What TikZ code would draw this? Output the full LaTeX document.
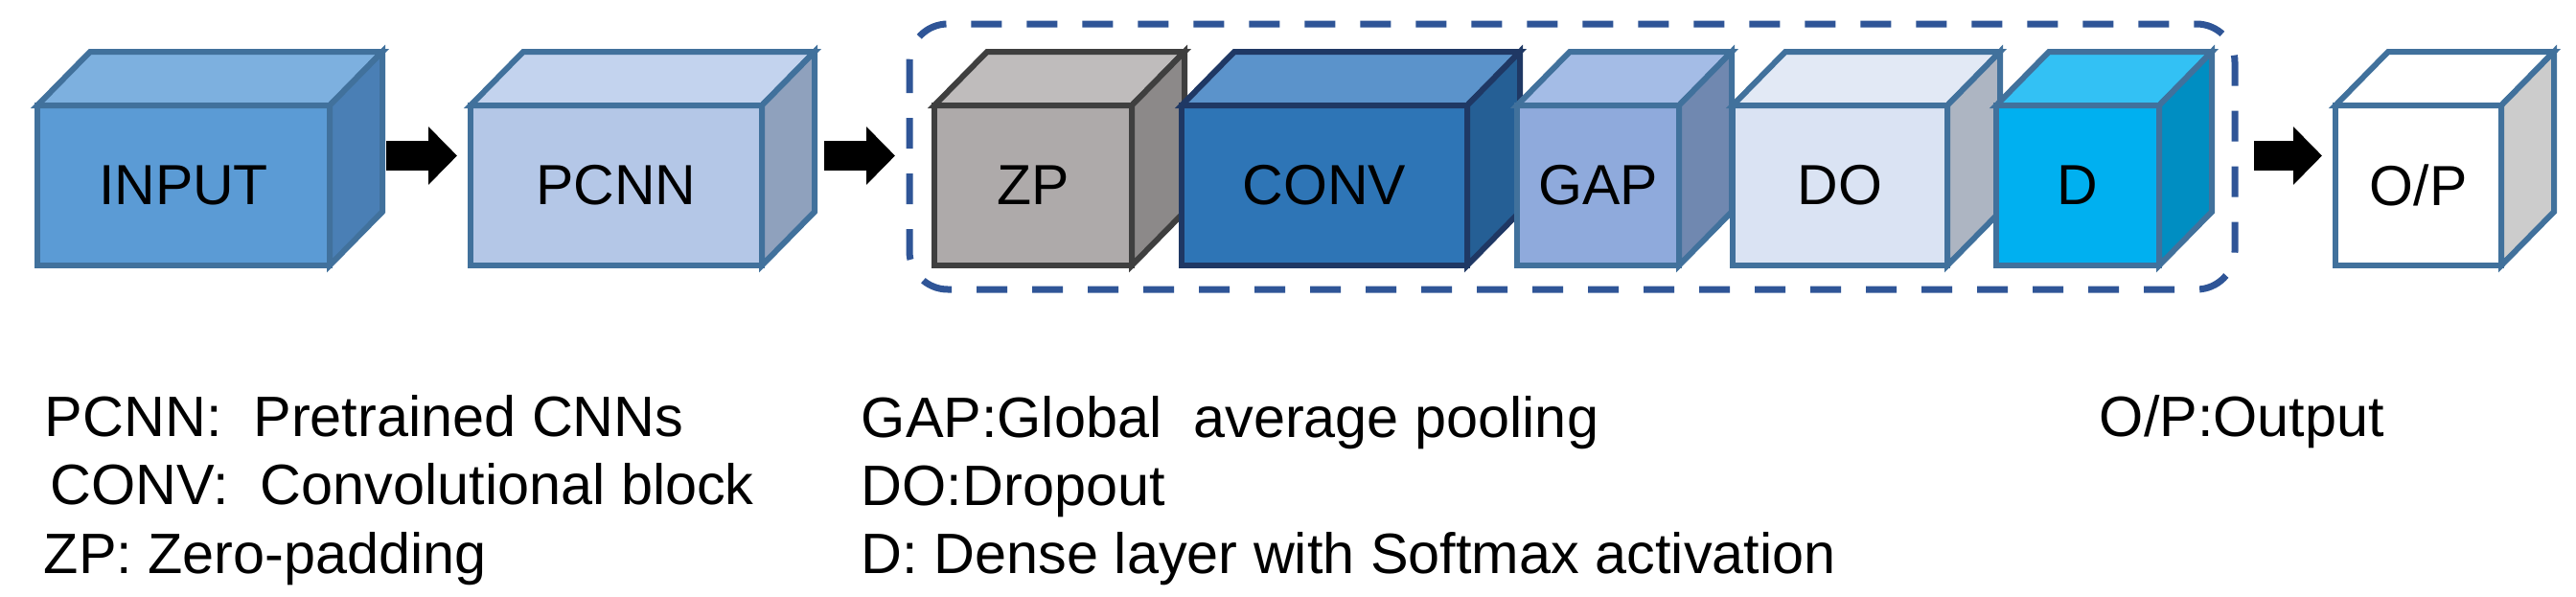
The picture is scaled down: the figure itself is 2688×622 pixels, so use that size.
\documentclass[tikz,border=0pt]{standalone}
\usepackage{fontspec}
\setmainfont{Liberation Sans}
\usetikzlibrary{arrows.meta}
\definecolor{edgeblue}{HTML}{41719C}
\definecolor{boxblue}{HTML}{2F5597}
\definecolor{inF}{HTML}{5B9BD5}\definecolor{inT}{HTML}{7DB0DF}\definecolor{inS}{HTML}{4A7FB5}
\definecolor{pcF}{HTML}{B4C7E7}\definecolor{pcT}{HTML}{C3D3EE}\definecolor{pcS}{HTML}{8FA1BD}
\definecolor{zpF}{HTML}{AEAAAA}\definecolor{zpT}{HTML}{BFBCBC}\definecolor{zpS}{HTML}{8C8989}\definecolor{zpE}{HTML}{3F3F3F}
\definecolor{cvF}{HTML}{2E75B6}\definecolor{cvT}{HTML}{5B93CB}\definecolor{cvS}{HTML}{255F95}\definecolor{cvE}{HTML}{1F3864}
\definecolor{gpF}{HTML}{8FAADC}\definecolor{gpT}{HTML}{A4BCE6}\definecolor{gpS}{HTML}{7088B0}
\definecolor{doF}{HTML}{DAE3F3}\definecolor{doT}{HTML}{E2E9F5}\definecolor{doS}{HTML}{ADB5C2}
\definecolor{dF}{HTML}{00B0F0}\definecolor{dT}{HTML}{33C1F4}\definecolor{dS}{HTML}{008EC2}
\definecolor{opS}{HTML}{CCCCCC}
\tikzset{
  face/.style={line width=1.5pt, line join=miter},
  frontface/.style={face, rectangle, inner sep=0pt, outer sep=0pt, minimum height=41.75pt,
    anchor=north west, font=\fontsize{14.75pt}{17pt}\selectfont, text=black},
  blockarrow/.style={line width=7.75pt, draw=black, -{Triangle[length=7.5pt,width=14.75pt]}},
  legend/.style={anchor=base west, inner sep=0pt, font=\fontsize{14.85pt}{17pt}\selectfont},
  groupbox/.style={draw=boxblue, line width=1.75pt, dash pattern=on 8pt off 6.5pt, rounded corners=10pt}
}
\newcommand{\cubebox}[8]{%
  \node[frontface, fill=#4, draw=#7, minimum width=#3*0.25pt] (#1) at (#2,110) {#8};
  \draw[face, fill=#5, draw=#7] (#1.north west) -- ++(55,-56) -- ++(#3,0) -- (#1.north east) -- cycle;
  \draw[face, fill=#6, draw=#7] (#1.north east) -- ++(55,-56) -- ++(0,167) -- (#1.south east) -- cycle;
}
\begin{document}
\begin{tikzpicture}[x=0.25pt, y=-0.25pt]
\fill[white] (0,0) rectangle (2688,622);
\useasboundingbox (0,0) rectangle (2688,622);
\draw[groupbox] (949,25) rectangle (2332,302);
\cubebox{INPUT}{39}{305}{inF}{inT}{inS}{edgeblue}{INPUT}
\cubebox{PCNN}{491}{304}{pcF}{pcT}{pcS}{edgeblue}{PCNN}
\cubebox{ZP}{975}{206}{zpF}{zpT}{zpS}{zpE}{ZP}
\cubebox{CONV}{1233}{298}{cvF}{cvT}{cvS}{cvE}{CONV}
\cubebox{GAP}{1583}{169}{gpF}{gpT}{gpS}{edgeblue}{GAP}
\cubebox{DO}{1808}{224}{doF}{doT}{doS}{edgeblue}{DO}
\cubebox{D}{2083}{170}{dF}{dT}{dS}{edgeblue}{D}
\cubebox{OP}{2437}{173}{white}{white}{opS}{edgeblue}{O/P}
\draw[blockarrow, shorten <=14.75pt, shorten >=3.5pt] ([yshift=7.75pt]INPUT.east) -- ([yshift=7.75pt]PCNN.west);
\draw[blockarrow, shorten <=16.25pt, shorten >=10.25pt] ([yshift=7.75pt]PCNN.east) -- ([yshift=7.75pt]ZP.west);
\draw[blockarrow, shorten <=24.75pt, shorten >=3.5pt] ([yshift=7.75pt]D.east) -- ([yshift=7.75pt]OP.west);
\node[legend] (l1) at (46,455) {PCNN:\ \ Pretrained CNNs};
\node[legend] (l2) at (52,526) {CONV:\ \ Convolutional block};
\node[legend] (l3) at (45,598) {ZP: Zero-padding};
\node[legend] (l4) at (898,456) {GAP:Global\ \ average pooling};
\node[legend] (l5) at (898,527) {DO:Dropout};
\node[legend] (l6) at (898,598) {D: Dense layer with Softmax activation};
\node[legend] (l7) at (2190,455) {O/P:Output};
\end{tikzpicture}
\end{document}
